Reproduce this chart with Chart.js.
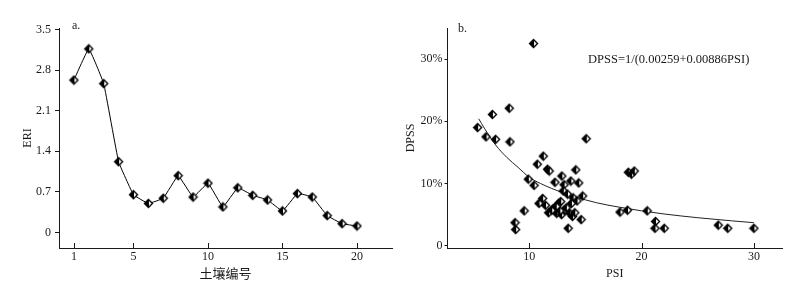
<!DOCTYPE html>
<html>
<head>
<meta charset="utf-8">
<script src="https://cdn.jsdelivr.net/npm/chart.js@4/dist/chart.umd.min.js"></script>
<style>
  html, body { margin: 0; padding: 0; background: #fff; }
  #wrap { position: relative; width: 805px; height: 286px; }
  canvas { position: absolute; top: 0; }
  #chart-a { left: 0; }
  #chart-b { left: 400px; }
</style>
</head>
<body>
<div id="wrap">
  <canvas id="chart-a" width="400" height="286"></canvas>
  <canvas id="chart-b" width="405" height="286"></canvas>
</div>
<script>
/*
  ==================================================
  ====================== DATA ======================
  ==================================================
*/

// a. ERI por numero de suelo
let soilNo = [1, 2, 3, 4, 5, 6, 7, 8, 9, 10, 11, 12, 13, 14, 15, 16, 17, 18, 19, 20];
let eri = [2.63, 3.17, 2.57, 1.22, 0.65, 0.50, 0.59, 0.98, 0.61, 0.85,
           0.44, 0.77, 0.64, 0.56, 0.37, 0.67, 0.61, 0.29, 0.15, 0.11];
let eriTicks = [0, 0.7, 1.4, 2.1, 2.8, 3.5];
let eriTickLabels = ['0', '0.7', '1.4', '2.1', '2.8', '3.5'];
let soilTicks = [1, 5, 10, 15, 20];

// b. DPSS vs PSI (DPSS en %)
let psi = [5.4, 6.15, 6.72, 7.0, 8.22, 8.28, 10.38, 15.07,
           11.25, 10.72, 11.62, 11.78, 14.14, 9.91, 10.43, 12.29, 12.9, 13.7, 14.4, 13.1,
           13.03, 13.4, 14.75, 13.9, 14.25, 13.75, 11.19, 10.87, 11.45, 12.14, 12.6, 12.8,
           11.72, 12.44, 12.88, 13.1, 13.3, 13.62, 13.85, 14.05, 14.62, 9.55, 8.73, 8.79, 13.47,
           18.08, 18.75, 20.5, 18.82, 19.1, 19.35, 21.24, 21.19, 22.02, 26.83, 27.67, 30.0,
           12.0, 12.72, 12.4];
let dpss = [19.0, 17.5, 21.1, 17.1, 22.1, 16.7, 32.5, 17.2,
            14.4, 13.1, 12.3, 12.0, 12.2, 10.7, 9.7, 10.2, 11.2, 10.4, 10.1, 9.8,
            8.8, 8.3, 8.0, 7.7, 7.2, 6.8, 7.6, 6.8, 6.5, 6.0, 6.8, 7.1,
            5.3, 5.2, 5.0, 5.7, 6.1, 5.2, 4.7, 5.3, 4.2, 5.6, 3.7, 2.6, 2.8,
            5.4, 5.7, 5.6, 11.8, 11.5, 12.0, 3.9, 2.8, 2.8, 3.3, 2.8, 2.8,
            5.7, 5.6, 6.3];
let fitPsi = [5.5, 6, 7, 8, 9, 10, 11, 12, 13, 14, 16, 18, 20, 22, 25, 28, 30];
let fitDpss = [20.4, 18.9, 16.2, 14.2, 12.6, 11.0, 10.0, 9.2, 8.5, 7.9, 6.9, 6.2, 5.6, 5.1, 4.5, 4.0, 3.7];
let dpssTicks = [0, 10, 20, 30];
let dpssTickLabels = ['0', '10%', '20%', '30%'];
let psiTicks = [10, 20, 30];

let fitLabel = 'DPSS=1/(0.00259+0.00886PSI)';

/*
  ==================================================
  ===================== ESTILO =====================
  ==================================================
*/

let serif = '"Liberation Serif", "DejaVu Serif", serif';
let cjk = '"Noto Sans CJK SC", sans-serif';
let ink = '#1a1a1a';

// diamante mitad negro / mitad blanco
let makeDiamond = (size) => {
  let c = document.createElement('canvas');
  c.width = c.height = size + 3;
  let ctx = c.getContext('2d');
  let m = (size + 3) / 2, r = size / 2;
  ctx.beginPath();
  ctx.moveTo(m, m - r); ctx.lineTo(m + r, m); ctx.lineTo(m, m + r); ctx.lineTo(m - r, m);
  ctx.closePath();
  ctx.fillStyle = '#fff';
  ctx.fill();
  ctx.beginPath();
  ctx.moveTo(m + 0.5, m - r); ctx.lineTo(m - r, m); ctx.lineTo(m + 0.5, m + r);
  ctx.closePath();
  ctx.fillStyle = '#000';
  ctx.fill();
  ctx.beginPath();
  ctx.moveTo(m, m - r); ctx.lineTo(m + r, m); ctx.lineTo(m, m + r); ctx.lineTo(m - r, m);
  ctx.closePath();
  ctx.lineWidth = 1.4;
  ctx.strokeStyle = '#000';
  ctx.stroke();
  return c;
};
let diamond = makeDiamond(8);

// marcas del eje x hacia adentro + textos sueltos
let extrasPlugin = {
  id: 'extras',
  afterDraw(chart, args, opts) {
    let ctx = chart.ctx;
    let x = chart.scales.x;
    let area = chart.chartArea;
    ctx.save();
    ctx.strokeStyle = ink;
    ctx.lineWidth = 1;
    x.ticks.forEach(t => {
      let px = Math.round(x.getPixelForValue(t.value)) + 0.5;
      ctx.beginPath();
      ctx.moveTo(px, area.bottom);
      ctx.lineTo(px, area.bottom - 5);
      ctx.stroke();
    });
    ctx.fillStyle = ink;
    ctx.textBaseline = 'middle';
    ctx.textAlign = 'left';
    (opts.texts || []).forEach(tx => {
      ctx.font = tx.font;
      ctx.fillText(tx.text, tx.x, tx.y);
    });
    ctx.restore();
  }
};

let fixedTicks = (values) => (scale) => {
  scale.ticks = values.map(v => ({ value: v }));
};

/*
  ==================================================
  ==================== GRAFICO A ====================
  ==================================================
*/

new Chart(document.getElementById('chart-a').getContext('2d'), {
  type: 'line',
  data: {
    datasets: [{
      data: soilNo.map((n, i) => ({ x: n, y: eri[i] })),
      borderColor: '#000',
      borderWidth: 1,
      tension: 0.08,
      pointStyle: diamond,
      pointRadius: 5,
      clip: false
    }]
  },
  options: {
    responsive: false,
    animation: false,
    layout: { padding: { top: 28, right: 8, left: 0, bottom: 0 } },
    plugins: {
      legend: { display: false },
      tooltip: { enabled: false },
      extras: {
        texts: [{ text: 'a.', x: 72, y: 26, font: '12px ' + serif }]
      }
    },
    scales: {
      x: {
        type: 'linear',
        min: 0,
        max: 22.35,
        afterBuildTicks: fixedTicks(soilTicks),
        afterFit: (s) => { s.height = 38; },
        grid: { display: false, drawTicks: false },
        border: { display: true, color: ink, width: 1 },
        ticks: { color: ink, font: { family: serif, size: 12 }, padding: 2, maxRotation: 0 },
        title: {
          display: true, text: '土壤编号', color: ink,
          font: { family: cjk, size: 13 }, padding: { top: 0, bottom: 5 }
        }
      },
      y: {
        min: -0.27,
        max: 3.53,
        afterBuildTicks: fixedTicks(eriTicks),
        afterFit: (s) => { s.width = 59; },
        grid: { drawOnChartArea: false, tickLength: 4, color: ink },
        border: { display: true, color: ink, width: 1 },
        ticks: {
          color: ink, font: { family: serif, size: 12 }, padding: 4,
          callback: (v, i) => eriTickLabels[i]
        },
        title: {
          display: true, text: 'ERI', color: ink,
          font: { family: serif, size: 12 }, padding: { top: 21, bottom: 0 }
        }
      }
    }
  },
  plugins: [extrasPlugin]
});

/*
  ==================================================
  ==================== GRAFICO B ====================
  ==================================================
*/

new Chart(document.getElementById('chart-b').getContext('2d'), {
  type: 'scatter',
  data: {
    datasets: [{
      data: psi.map((p, i) => ({ x: p, y: dpss[i] })),
      pointStyle: diamond,
      pointRadius: 5,
      clip: false
    }, {
      data: fitPsi.map((p, i) => ({ x: p, y: fitDpss[i] })),
      showLine: true,
      borderColor: '#222',
      borderWidth: 1,
      pointRadius: 0,
      cubicInterpolationMode: 'monotone'
    }]
  },
  options: {
    responsive: false,
    animation: false,
    layout: { padding: { top: 28, right: 23, left: 0, bottom: 0 } },
    plugins: {
      legend: { display: false },
      tooltip: { enabled: false },
      extras: {
        texts: [
          { text: 'b.', x: 58, y: 29, font: '12px ' + serif },
          { text: fitLabel, x: 188, y: 60, font: '12.5px ' + serif }
        ]
      }
    },
    scales: {
      x: {
        type: 'linear',
        min: 2.72,
        max: 32.5,
        afterBuildTicks: fixedTicks(psiTicks),
        afterFit: (s) => { s.height = 38; },
        grid: { display: false, drawTicks: false },
        border: { display: true, color: ink, width: 1 },
        ticks: { color: ink, font: { family: serif, size: 12 }, padding: 2, maxRotation: 0 },
        title: {
          display: true, text: 'PSI', color: ink,
          font: { family: serif, size: 12 }, padding: { top: 0, bottom: 5 }
        }
      },
      y: {
        min: -0.37,
        max: 35,
        afterBuildTicks: fixedTicks(dpssTicks),
        afterFit: (s) => { s.width = 47.5; },
        grid: { drawOnChartArea: false, tickLength: 3, color: ink },
        border: { display: true, color: ink, width: 1 },
        ticks: {
          color: ink, font: { family: serif, size: 12 }, padding: 2,
          callback: (v, i) => dpssTickLabels[i]
        },
        title: {
          display: true, text: 'DPSS', color: ink,
          font: { family: serif, size: 12 }, padding: { top: 4, bottom: 0 }
        }
      }
    }
  },
  plugins: [extrasPlugin]
});
</script>
</body>
</html>
